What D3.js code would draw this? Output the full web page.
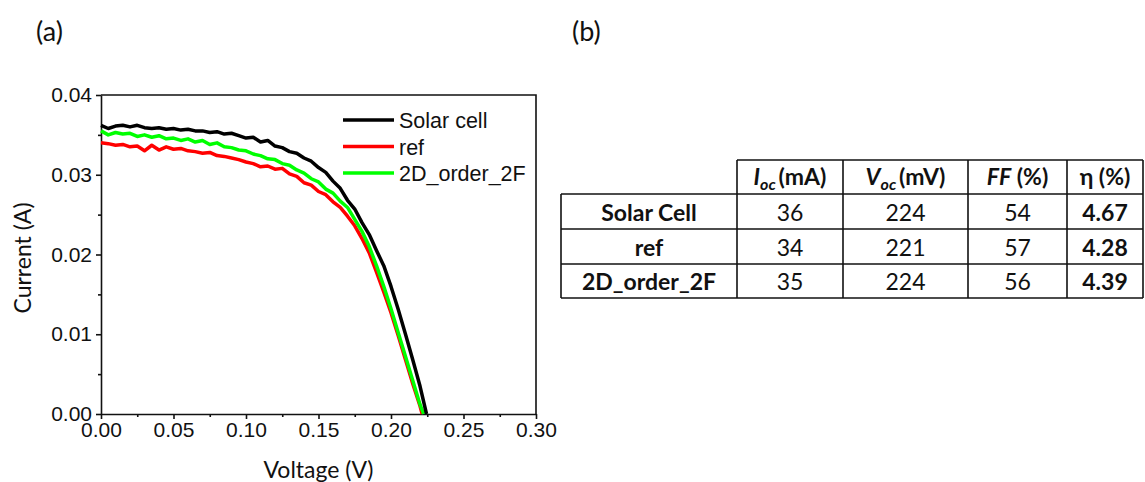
<html>
<head>
<style>
  body { margin: 0; background: white; }
  svg { display: block; }
  .tick text { font-family: "Liberation Sans", Arial, sans-serif; font-size: 21px; fill: #111; }
  .axis path, .axis line { stroke: #111; stroke-width: 1.6px; }
  .cal { font-family: Lato, "Open Sans", sans-serif; fill: #111; }
</style>
</head>
<body>
<svg width="1145" height="482"></svg>
<script src="https://cdn.jsdelivr.net/npm/d3@7"></script>
<script>
// ---- data ----
var voltage = [0, 0.005, 0.010, 0.015, 0.020, 0.025, 0.030, 0.035, 0.040, 0.045,
               0.050, 0.055, 0.060, 0.065, 0.070, 0.075, 0.080, 0.085, 0.090, 0.095,
               0.100, 0.105, 0.110, 0.115, 0.120, 0.125, 0.130, 0.135, 0.140, 0.145,
               0.150, 0.155, 0.160, 0.165, 0.170, 0.175, 0.180, 0.185, 0.190, 0.195,
               0.200, 0.205, 0.210, 0.215, 0.220];

var solarCell = [0.0362, 0.0358, 0.0361, 0.0362, 0.0360, 0.0362, 0.0359, 0.0358, 0.0359, 0.0357,
                 0.0358, 0.0356, 0.0357, 0.0355, 0.0355, 0.0353, 0.0354, 0.0351, 0.0352, 0.0349,
                 0.0346, 0.0347, 0.0341, 0.0343, 0.0336, 0.0334, 0.0329, 0.0327, 0.0321, 0.0317,
                 0.0309, 0.0303, 0.0292, 0.0283, 0.0268, 0.0257, 0.0240, 0.0225, 0.0205, 0.0186,
                 0.0160, 0.0131, 0.0100, 0.0068, 0.0035];

var refCell = [0.0340, 0.0339, 0.0337, 0.0338, 0.0335, 0.0336, 0.0330, 0.0337, 0.0331, 0.0335,
               0.0332, 0.0333, 0.0330, 0.0329, 0.0327, 0.0328, 0.0324, 0.0323, 0.0321, 0.0319,
               0.0316, 0.0314, 0.0310, 0.0311, 0.0307, 0.0308, 0.0301, 0.0298, 0.0290, 0.0287,
               0.0279, 0.0275, 0.0266, 0.0259, 0.0248, 0.0236, 0.0220, 0.0202, 0.0178, 0.0153,
               0.0127, 0.0098, 0.0068, 0.0038, 0.0010];

var order2F = [0.0355, 0.0350, 0.0353, 0.0351, 0.0352, 0.0348, 0.0350, 0.0347, 0.0349, 0.0345,
               0.0346, 0.0343, 0.0345, 0.0341, 0.0343, 0.0338, 0.0340, 0.0335, 0.0334, 0.0331,
               0.0330, 0.0326, 0.0324, 0.0320, 0.0319, 0.0314, 0.0312, 0.0306, 0.0302, 0.0295,
               0.0291, 0.0282, 0.0277, 0.0267, 0.0259, 0.0244, 0.0229, 0.0210, 0.0186, 0.0160,
               0.0132, 0.0102, 0.0072, 0.0042, 0.0012];

// voltage where each curve reaches zero current
var curveEnd = [0.2245, 0.2215, 0.2225];

var seriesNames = ["Solar cell", "ref", "2D_order_2F"];
var seriesColors = ["#000000", "#ff0000", "#00ff00"];

var xTicks = [0, 0.05, 0.10, 0.15, 0.20, 0.25, 0.30];
var yTicks = [0, 0.01, 0.02, 0.03, 0.04];

// table
var rowLabels = ["Solar Cell", "ref", "2D_order_2F"];
var iocValues = [36, 34, 35];
var vocValues = [224, 221, 224];
var ffValues = [54, 57, 56];
var etaValues = ["4.67", "4.28", "4.39"];

// ---- chart ----
var svg = d3.select("svg");

var plotLeft = 101, plotRight = 536, plotTop = 95, plotBottom = 414;

var xScale = d3.scaleLinear().domain([0, 0.30]).range([plotLeft, plotRight]),
    yScale = d3.scaleLinear().domain([0, 0.04]).range([plotBottom, plotTop]);

var xMinor = [0.025, 0.075, 0.125, 0.175, 0.225, 0.275],
    yMinor = [0.005, 0.015, 0.025, 0.035];

svg.append("g").attr("class", "axis")
    .attr("transform", "translate(0," + plotBottom + ")")
    .call(d3.axisBottom(xScale).tickValues(xMinor).tickSize(3).tickFormat(""))
    .select(".domain").remove();
svg.append("g").attr("class", "axis")
    .attr("transform", "translate(" + plotLeft + ",0)")
    .call(d3.axisLeft(yScale).tickValues(yMinor).tickSize(3).tickFormat(""))
    .select(".domain").remove();

var xAxis = svg.append("g").attr("class", "axis")
    .attr("transform", "translate(0," + plotBottom + ")")
    .call(d3.axisBottom(xScale).tickValues(xTicks).tickSize(5).tickSizeOuter(0)
        .tickFormat(d3.format(".2f")));
xAxis.selectAll(".tick text").attr("y", 8);

var yAxis = svg.append("g").attr("class", "axis")
    .attr("transform", "translate(" + plotLeft + ",0)")
    .call(d3.axisLeft(yScale).tickValues(yTicks).tickSize(5).tickSizeOuter(0)
        .tickFormat(d3.format(".2f")));
yAxis.selectAll(".tick text").attr("x", -9);

// frame top and right
svg.append("path")
    .attr("d", "M" + plotLeft + "," + plotTop + "H" + plotRight + "V" + plotBottom)
    .attr("fill", "none").attr("stroke", "#111").attr("stroke-width", 1.6);

var line = d3.line()
    .x(function(d) { return xScale(d[0]); })
    .y(function(d) { return yScale(d[1]); });

var allSeries = [solarCell, refCell, order2F];
// red first, then green, black on top
[1, 2, 0].forEach(function(i) {
    var pts = voltage.map(function(v, k) { return [v, allSeries[i][k]]; });
    pts.push([curveEnd[i], 0]);
    svg.append("path")
        .datum(pts)
        .attr("d", line)
        .attr("fill", "none")
        .attr("stroke", seriesColors[i])
        .attr("stroke-width", 3.5)
        .attr("stroke-linejoin", "round");
});

// legend
var legend = svg.append("g").attr("transform", "translate(343,120)");
seriesNames.forEach(function(name, i) {
    legend.append("line")
        .attr("x1", 0).attr("x2", 51)
        .attr("y1", i * 26.5).attr("y2", i * 26.5)
        .attr("stroke", seriesColors[i]).attr("stroke-width", 3.5);
    legend.append("text")
        .attr("x", 56).attr("y", i * 26.5 + 8)
        .style("font-family", "'Liberation Sans', Arial, sans-serif")
        .style("font-size", "21.5px")
        .attr("fill", "#111")
        .text(name);
});

// axis titles
svg.append("text").attr("class", "cal")
    .attr("x", (plotLeft + plotRight) / 2).attr("y", 478)
    .attr("text-anchor", "middle").style("font-size", "23px")
    .text("Voltage (V)");
svg.append("text").attr("class", "cal")
    .attr("transform", "translate(31,258) rotate(-90)")
    .attr("text-anchor", "middle").style("font-size", "23px")
    .text("Current (A)");

// panel labels
svg.append("text").attr("class", "cal").attr("x", 36).attr("y", 41)
    .style("font-size", "27px").text("(a)");
svg.append("text").attr("class", "cal").attr("x", 572).attr("y", 41)
    .style("font-size", "27px").text("(b)");

// ---- table ----
var colEdges = [561, 737, 843, 968, 1067, 1143];
var rowEdges = [160, 194, 229, 264, 298];
var table = svg.append("g");

function hline(y, x1, x2) {
    table.append("line").attr("x1", x1).attr("x2", x2).attr("y1", y).attr("y2", y)
        .attr("stroke", "#111").attr("stroke-width", 1.6);
}
function vline(x, y1, y2) {
    table.append("line").attr("x1", x).attr("x2", x).attr("y1", y1).attr("y2", y2)
        .attr("stroke", "#111").attr("stroke-width", 1.6);
}

hline(rowEdges[0], colEdges[1], colEdges[5]);
for (var r = 1; r < rowEdges.length; r++) hline(rowEdges[r], colEdges[0], colEdges[5]);
vline(colEdges[0], rowEdges[1], rowEdges[4]);
for (var c = 1; c < colEdges.length; c++) vline(colEdges[c], rowEdges[0], rowEdges[4]);

function colCenter(c) { return (colEdges[c] + colEdges[c + 1]) / 2; }
function rowBase(r) { return (rowEdges[r] + rowEdges[r + 1]) / 2 + 9; }

// header cells
function headerSub(c, main, sub, rest) {
    var t = table.append("text").attr("class", "cal")
        .attr("x", colCenter(c)).attr("y", rowBase(0) - 1)
        .attr("text-anchor", "middle").style("font-size", "23px").style("font-weight", "bold");
    t.append("tspan").style("font-style", "italic").text(main);
    t.append("tspan").style("font-style", "italic").style("font-size", "16px")
        .attr("dy", 5).text(sub);
    t.append("tspan").attr("dy", -5).text("\u2009" + rest);
}
headerSub(1, "I", "oc", "(mA)");
headerSub(2, "V", "oc", "(mV)");
var ffHead = table.append("text").attr("class", "cal")
    .attr("x", colCenter(3)).attr("y", rowBase(0) - 1)
    .attr("text-anchor", "middle").style("font-size", "23px").style("font-weight", "bold");
ffHead.append("tspan").style("font-style", "italic").text("FF");
ffHead.append("tspan").text(" (%)");
table.append("text").attr("class", "cal")
    .attr("x", colCenter(4)).attr("y", rowBase(0) - 1)
    .attr("text-anchor", "middle").style("font-size", "23px").style("font-weight", "bold")
    .text("\u03b7 (%)");

rowLabels.forEach(function(label, i) {
    var cells = [label, iocValues[i], vocValues[i], ffValues[i], etaValues[i]];
    cells.forEach(function(v, c) {
        table.append("text").attr("class", "cal")
            .attr("x", colCenter(c)).attr("y", rowBase(i + 1))
            .attr("text-anchor", "middle").style("font-size", "23px")
            .style("font-weight", (c === 0 || c === 4) ? "bold" : "normal")
            .text(v);
    });
});
</script>
</body>
</html>
